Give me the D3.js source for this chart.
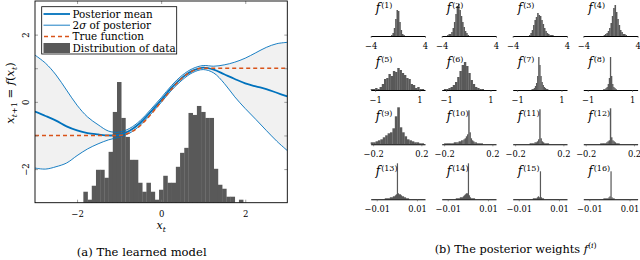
<!DOCTYPE html>
<html>
<head>
<meta charset="utf-8">
<script src="https://cdn.jsdelivr.net/npm/d3@7"></script>
<style>
  body { margin: 0; background: #fff; }
  text { font-family: "DejaVu Serif", serif; fill: #000; }
</style>
</head>
<body>
<script>
// ---- left plot: posterior of the learned model ----
var xs        = [-3, -2.75, -2.5, -2.25, -2, -1.75, -1.5, -1.25, -1, -0.75, -0.5, -0.25, 0, 0.25, 0.5, 0.75, 1, 1.25, 1.5, 1.75, 2, 2.25, 2.5, 2.75, 3];
var postMean  = [-0.29, -0.42, -0.56, -0.73, -0.85, -0.93, -0.97, -1.0, -0.98, -0.86, -0.63, -0.3, 0.05, 0.42, 0.72, 0.93, 1.02, 0.96, 0.82, 0.68, 0.55, 0.46, 0.38, 0.27, 0.16];
var postUpper = [1.39, 1.15, 0.8, 0.35, -0.1, -0.45, -0.68, -0.87, -0.9, -0.79, -0.56, -0.23, 0.12, 0.49, 0.79, 0.99, 1.08, 1.06, 1.1, 1.18, 1.3, 1.46, 1.62, 1.73, 1.77];
var postLower = [-1.97, -2.0, -1.93, -1.82, -1.6, -1.4, -1.25, -1.13, -1.05, -0.93, -0.7, -0.37, -0.02, 0.35, 0.65, 0.87, 0.96, 0.86, 0.55, 0.15, -0.2, -0.52, -0.85, -1.17, -1.45];
var trueX     = [-3, -1, -0.75, -0.5, -0.25, 0, 0.25, 0.5, 0.75, 1, 3];
var trueY     = [-1, -1, -0.92, -0.71, -0.38, 0, 0.38, 0.71, 0.92, 1, 1];

// histogram of the data (bins of 0.1 starting at -1.85)
var histLo = -1.85, histStep = 0.1;
var histCounts = [11, 3, 17, 33, 33, 25, 51, 91, 121, 85, 66, 43, 43, 20, 11, 20, 11, 3, 13, 27, 20, 20, 36, 50, 55, 90, 88, 97, 91, 85, 85, 34, 18, 14, 6, 6, 0, 3];

var xTicks = [-2, 0, 2];
var yTicks = [-2, -1, 0, 1, 2];
var legendNames = ["Posterior mean", "2\u03c3 of posterior", "True function", "Distribution of data"];

// ---- right plot: posterior weights f(1)..f(16) ----
var wDomains = [[-4, 4], [-1.2, 1.25], [-0.22, 0.23], [-0.013, 0.014]];
var wTicks   = [[-4, 4], [-1, 1], [-0.2, 0.2], [-0.01, 0.01]];
var wStart = [-1.0, -3.2, -1.6, -1.0,  -1.2, -1.1, -0.35, -0.3,  -0.22, -0.2, -0.08, -0.08,  -0.006, -0.006, -0.006, -0.006];
var wStep  = [0.2, 0.2, 0.2, 0.2,  0.1, 0.1, 0.05, 0.05,  0.02, 0.01, 0.01, 0.01,  0.0005, 0.0005, 0.0005, 0.0005];
var wCounts = [
  [1, 3, 8, 17, 26, 25, 14, 6, 2, 1],
  [1, 2, 2, 4, 8, 14, 22, 30, 32, 26, 20, 14, 9, 5, 3, 1],
  [1, 3, 6, 11, 16, 19, 23, 21, 20, 16, 12, 8, 5, 3, 2, 1, 1, 1],
  [1, 2, 3, 5, 8, 13, 20, 28, 31, 24, 17, 11, 6, 4, 2, 2, 1],
  [1, 1, 2, 1, 3, 6, 11, 12, 16, 14, 19, 18, 22, 20, 17, 15, 12, 11, 6, 5, 2, 3, 1, 1],
  [1, 1, 2, 3, 5, 8, 13, 19, 25, 28, 24, 17, 10, 6, 3, 2, 1, 1],
  [1, 1, 2, 4, 7, 14, 33, 25, 14, 8, 5, 3, 2, 1, 1],
  [1, 1, 2, 3, 6, 12, 33, 14, 6, 3, 2, 1],
  [2, 2, 3, 4, 5, 7, 9, 11, 12, 16, 28, 37, 17, 12, 8, 5, 4, 3, 2, 2, 1, 1],
  [1, 1, 1, 1, 1, 1, 1, 1, 2, 2, 2, 2, 3, 3, 4, 4, 5, 6, 8, 10, 34, 12, 6, 4, 3, 2, 2, 1, 1, 1, 1, 1],
  [1, 1, 1, 1, 2, 2, 3, 5, 35, 6, 3, 2, 1, 1, 1, 1],
  [1, 1, 1, 1, 1, 2, 3, 4, 36, 7, 4, 3, 2, 1, 1, 1],
  [1, 1, 1, 1, 1, 2, 2, 2, 3, 3, 4, 5, 36, 6, 5, 5, 4, 3, 3, 2, 2, 1, 1, 1],
  [1, 1, 1, 1, 2, 2, 2, 3, 4, 5, 6, 6, 36, 4, 2, 1, 1, 1, 1],
  [0, 0, 0, 0, 0, 0, 1, 1, 1, 1, 2, 3, 2, 28, 2, 1, 1],
  [0, 0, 0, 0, 0, 0, 1, 1, 1, 1, 1, 2, 3, 28, 2, 1, 1]
];

var blue = "#0072bd", orange = "#d95319", grey = "#595959";
var serif = "DejaVu Serif";
var fmt = d3.format("~g");

var svg = d3.select("body").append("svg")
  .attr("width", 640).attr("height", 260);

// scales for the left plot
var x = d3.scaleLinear().domain([-3, 3]).range([35, 287.3]);
var y = d3.scaleLinear().domain([-3, 3]).range([202.7, 1]);
var hy = d3.scaleLinear().domain([0, 120]).range([y(-3), y(0.56)]);

svg.append("clipPath").attr("id", "clipL")
  .append("rect").attr("x", x(-3)).attr("y", y(3))
  .attr("width", x(3) - x(-3)).attr("height", y(-3) - y(3));

var plot = svg.append("g").attr("clip-path", "url(#clipL)");
var curve = d3.curveCatmullRom.alpha(0.5);

// shaded 2 sigma band
plot.append("path")
  .datum(xs)
  .attr("fill", "#f1f1f1")
  .attr("d", d3.area().curve(curve)
    .x(function(d) { return x(d); })
    .y0(function(d, i) { return y(postLower[i]); })
    .y1(function(d, i) { return y(postUpper[i]); }));

// histogram of the data
plot.selectAll("rect.hist")
  .data(histCounts)
  .enter().append("rect")
  .attr("class", "hist")
  .attr("x", function(d, i) { return x(histLo + i * histStep); })
  .attr("width", function(d, i) { return x(histLo + (i + 1) * histStep) - x(histLo + i * histStep) + 0.3; })
  .attr("y", function(d) { return hy(d); })
  .attr("height", function(d) { return hy(0) - hy(d); })
  .attr("fill", grey);

// posterior lines
function line(vals) {
  return d3.line().curve(curve)
    .x(function(d) { return x(d); })
    .y(function(d, i) { return y(vals[i]); })(xs);
}
plot.append("path").attr("d", line(postUpper)).attr("fill", "none").attr("stroke", blue).attr("stroke-width", 0.9);
plot.append("path").attr("d", line(postLower)).attr("fill", "none").attr("stroke", blue).attr("stroke-width", 0.9);
plot.append("path").attr("d", line(postMean)).attr("fill", "none").attr("stroke", blue).attr("stroke-width", 1.8);

// true function
plot.append("path")
  .datum(trueX)
  .attr("fill", "none").attr("stroke", orange).attr("stroke-width", 1.5)
  .attr("stroke-dasharray", "4,3")
  .attr("d", d3.line().curve(d3.curveMonotoneX)
    .x(function(d) { return x(d); })
    .y(function(d, i) { return y(trueY[i]); }));

// axes, ticks inward on all four sides
var tickCol = "#777";
var gx = svg.append("g").attr("transform", "translate(0," + y(-3) + ")")
  .call(d3.axisBottom(x).tickValues(xTicks).tickSize(-3).tickPadding(8.3).tickFormat(fmt));
svg.append("g").attr("transform", "translate(0," + y(3) + ")")
  .call(d3.axisTop(x).tickValues(xTicks).tickSize(-3).tickFormat(""));
var gy = svg.append("g").attr("transform", "translate(" + x(-3) + ",0)")
  .call(d3.axisLeft(y).tickValues(yTicks).tickSize(-3)
    .tickFormat(function(d) { return d % 2 === 0 ? fmt(d) : ""; }));
svg.append("g").attr("transform", "translate(" + x(3) + ",0)")
  .call(d3.axisRight(y).tickValues(yTicks).tickSize(-3).tickFormat(""));
svg.selectAll(".domain").attr("stroke", "none");
svg.selectAll(".tick line").attr("stroke", tickCol).attr("stroke-width", 0.7);
gx.selectAll("text").attr("font-size", 8.5).attr("font-family", serif);
gy.selectAll("text")
  .attr("font-size", 8.5).attr("font-family", serif)
  .attr("x", 0).attr("dy", 0).attr("text-anchor", "middle")
  .attr("transform", "translate(-5.6,0) rotate(-90)");

// frame
svg.append("rect")
  .attr("x", x(-3)).attr("y", y(3))
  .attr("width", x(3) - x(-3)).attr("height", y(-3) - y(3))
  .attr("fill", "none").attr("stroke", "#000").attr("stroke-width", 0.9);

// axis labels
var xl = svg.append("text").attr("x", x(0)).attr("y", 229)
  .attr("text-anchor", "middle").attr("font-size", 11);
xl.append("tspan").attr("font-style", "italic").text("x");
xl.append("tspan").attr("font-style", "italic").attr("font-size", 7.5).attr("dy", 2.5).text("t");

var yl = svg.append("text")
  .attr("transform", "translate(14,93) rotate(-90)")
  .attr("text-anchor", "middle").attr("font-size", 11.5);
yl.append("tspan").attr("font-style", "italic").text("x");
yl.append("tspan").attr("font-size", 8).attr("dy", 2.5).attr("font-style", "italic").text("t");
yl.append("tspan").attr("font-size", 8).text("+1");
yl.append("tspan").attr("dy", -2.5).text(" = ");
yl.append("tspan").attr("font-style", "italic").text("f");
yl.append("tspan").text("(");
yl.append("tspan").attr("font-style", "italic").text("x");
yl.append("tspan").attr("font-size", 8).attr("dy", 2.5).attr("font-style", "italic").text("t");
yl.append("tspan").attr("dy", -2.5).text(")");

// legend
var lg = svg.append("g");
lg.append("rect").attr("x", 41.7).attr("y", 6.7).attr("width", 135).attr("height", 47.3)
  .attr("fill", "#fff").attr("stroke", "#000").attr("stroke-width", 0.8);
var rowY = [14, 25.2, 36.4, 48];
lg.append("line").attr("x1", 43.5).attr("x2", 70).attr("y1", rowY[0]).attr("y2", rowY[0])
  .attr("stroke", blue).attr("stroke-width", 1.8);
lg.append("line").attr("x1", 43.5).attr("x2", 70).attr("y1", rowY[1]).attr("y2", rowY[1])
  .attr("stroke", blue).attr("stroke-width", 0.9);
lg.append("line").attr("x1", 44).attr("x2", 70).attr("y1", rowY[2]).attr("y2", rowY[2])
  .attr("stroke", orange).attr("stroke-width", 1.5).attr("stroke-dasharray", "4,3");
lg.append("rect").attr("x", 43.5).attr("y", rowY[3] - 5).attr("width", 26.5).attr("height", 10)
  .attr("fill", grey);
lg.selectAll("text.leg").data(legendNames).enter().append("text")
  .attr("class", "leg")
  .attr("x", 72.5).attr("y", function(d, i) { return rowY[i] + 3.7; })
  .attr("font-size", 10.4)
  .each(function(d) {
    var t = d3.select(this);
    if (d.indexOf("\u03c3") >= 0) {
      t.append("tspan").text("2");
      t.append("tspan").attr("font-style", "italic").text("\u03c3");
      t.append("tspan").text(d.slice(2));
    } else {
      t.text(d);
    }
  });

// caption (a)
svg.append("text").attr("x", 141.7).attr("y", 255.5).attr("text-anchor", "middle")
  .attr("font-size", 11.6).text("(a) The learned model");

// ---- small multiples ----
var colX = [370.7, 441.7, 512.7, 583.3];
var rowBase = [36, 90, 144.3, 199.3];
var pw = 54.3;

wCounts.forEach(function(counts, i) {
  var r = Math.floor(i / 4), c = i % 4;
  var sx = d3.scaleLinear().domain(wDomains[r]).range([colX[c], colX[c] + pw]);
  var sy = d3.scaleLinear().domain([0, 40]).range([rowBase[r], rowBase[r] - 40]);
  var g = svg.append("g");

  g.selectAll("rect").data(counts).enter().append("rect")
    .attr("x", function(d, k) { return sx(wStart[i] + k * wStep[i]); })
    .attr("width", function(d, k) { return sx(wStart[i] + (k + 1) * wStep[i]) - sx(wStart[i] + k * wStep[i]) + 0.2; })
    .attr("y", function(d) { return sy(d); })
    .attr("height", function(d) { return sy(0) - sy(d); })
    .attr("fill", grey);

  var ax = g.append("g").attr("transform", "translate(0," + rowBase[r] + ")")
    .call(d3.axisBottom(sx).tickValues(wTicks[r]).tickSize(2).tickSizeOuter(0).tickPadding(5).tickFormat(fmt));
  ax.select(".domain").attr("stroke", "#000").attr("stroke-width", 1.1);
  ax.selectAll(".tick line").attr("stroke", "#555").attr("stroke-width", 0.6);
  ax.selectAll("text").attr("font-size", 8.3).attr("font-family", serif);

  var lab = g.append("text").attr("x", colX[c] + 5).attr("y", rowBase[r] - 24).attr("font-size", 12);
  lab.append("tspan").attr("font-style", "italic").text("f");
  lab.append("tspan").attr("font-size", 8).attr("dy", -4).attr("dx", 1).text("(" + (i + 1) + ")");
});

// caption (b)
var cb = svg.append("text").attr("x", 515.7).attr("y", 253).attr("text-anchor", "middle").attr("font-size", 11.3);
cb.append("tspan").text("(b) The posterior weights ");
cb.append("tspan").attr("font-style", "italic").text("f");
cb.append("tspan").attr("font-size", 8).attr("dy", -5).text("(");
cb.append("tspan").attr("font-size", 8).attr("font-style", "italic").text("i");
cb.append("tspan").attr("font-size", 8).text(")");
</script>
</body>
</html>
